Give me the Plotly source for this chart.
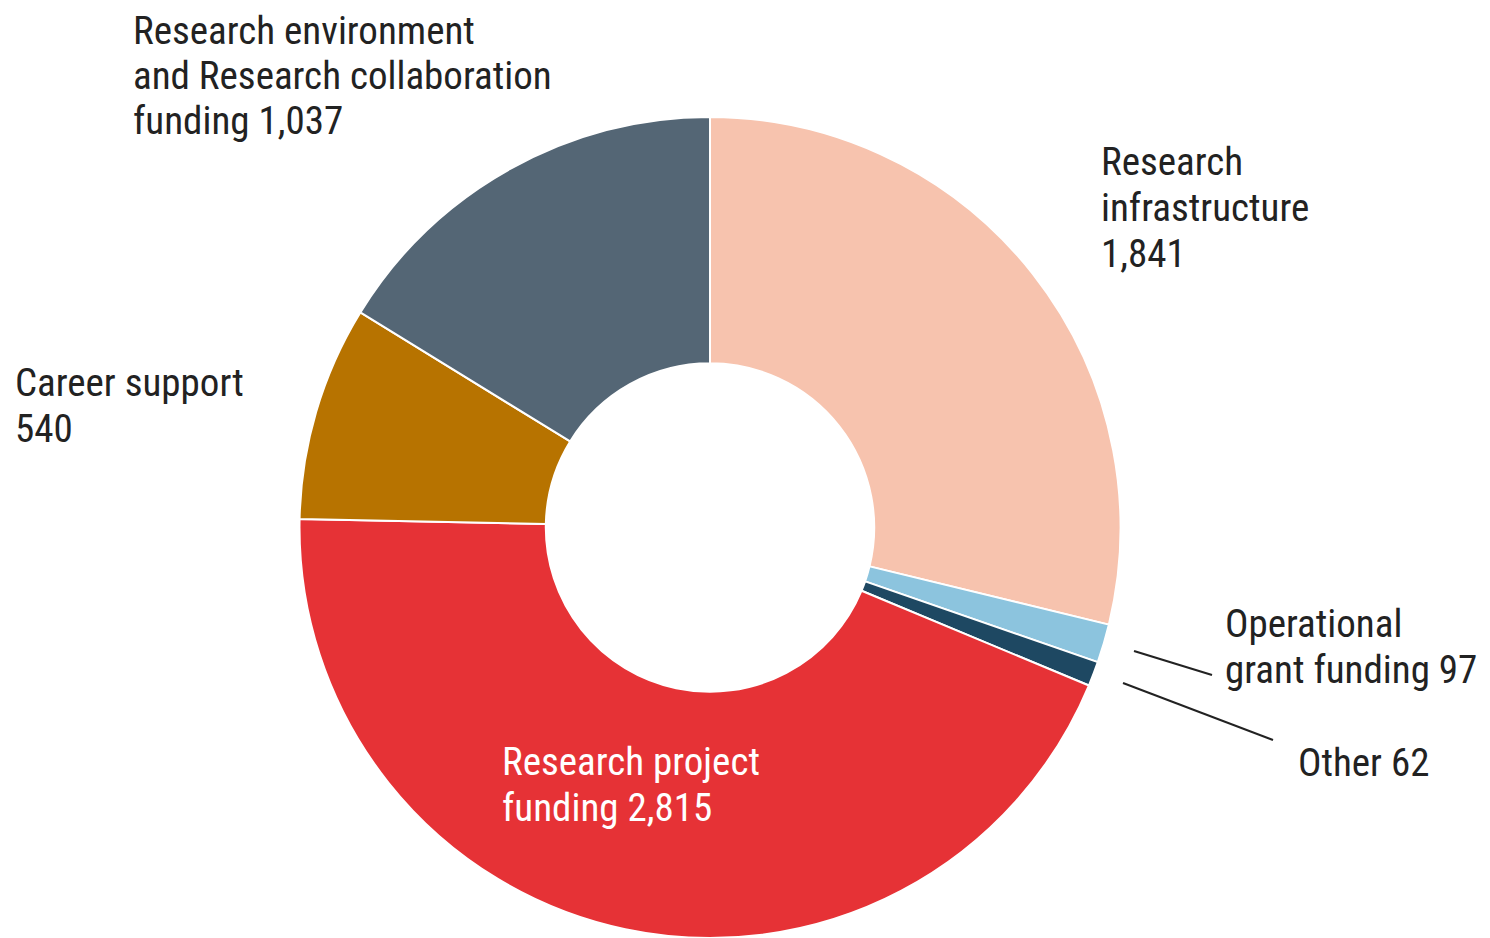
import plotly.graph_objects as go

# browser body has an 8px margin, so the figure is drawn 8px in and 8px smaller
OFF = 8
W, H = 1490 - OFF, 938 - OFF

categories = [
    "Research infrastructure",
    "Operational grant funding",
    "Other",
    "Research project funding",
    "Career support",
    "Research environment and Research collaboration funding",
]
values = [1841, 97, 62, 2815, 540, 1037]
colors = ["#F7C3AE", "#8CC4DE", "#1E4862", "#E63236", "#B77300", "#546675"]

label_texts = [
    "Research environment<br>and Research collaboration<br>funding 1,037",
    "Research<br>infrastructure<br>1,841",
    "Career support<br>540",
    "Research project<br>funding 2,815",
    "Operational<br>grant funding 97",
    "Other 62",
]

FONT = "Roboto Condensed, Roboto, sans-serif"
FSIZE = 39


def px(x):
    return (x - OFF) / W


def py(y):
    return 1 - (y - OFF) / H


cx, cy, r = 710, 528, 411

fig = go.Figure(
    go.Pie(
        labels=categories,
        values=values,
        sort=False,
        direction="clockwise",
        rotation=0,
        hole=0.4,
        marker=dict(colors=colors, line=dict(color="white", width=2)),
        textinfo="none",
        hoverinfo="label+value",
        domain=dict(x=[px(cx - r), px(cx + r)], y=[max(0, py(cy + r)), min(1, py(cy - r))]),
    )
)

# label anchor: left edge, middle of the first line, line gap (pixels), colour
label_pos = [
    (131, 31, 45, "#222222"),
    (1099, 162, 46, "#222222"),
    (13, 383, 46, "#222222"),
    (500, 762, 46, "white"),
    (1223, 624, 46, "#222222"),
    (1296, 763, 46, "#222222"),
]
for txt, (x, y, gap, c) in zip(label_texts, label_pos):
    for i, line in enumerate(txt.split("<br>")):
        fig.add_annotation(
            x=px(x), y=py(y + i * gap), xref="paper", yref="paper",
            xanchor="left", yanchor="middle", align="left",
            text=line, showarrow=False,
            font=dict(family=FONT, size=FSIZE, color=c),
        )

# leader lines
for x0, y0, x1, y1 in [(1134, 651, 1212, 675), (1123, 683, 1273, 740)]:
    fig.add_shape(
        type="line", xref="paper", yref="paper",
        x0=px(x0), y0=py(y0), x1=px(x1), y1=py(y1),
        line=dict(color="#222222", width=2),
    )

fig.update_layout(
    width=W, height=H,
    margin=dict(l=0, r=0, t=0, b=0),
    showlegend=False,
    paper_bgcolor="white",
    plot_bgcolor="white",
)

fig.write_html("out.html")
